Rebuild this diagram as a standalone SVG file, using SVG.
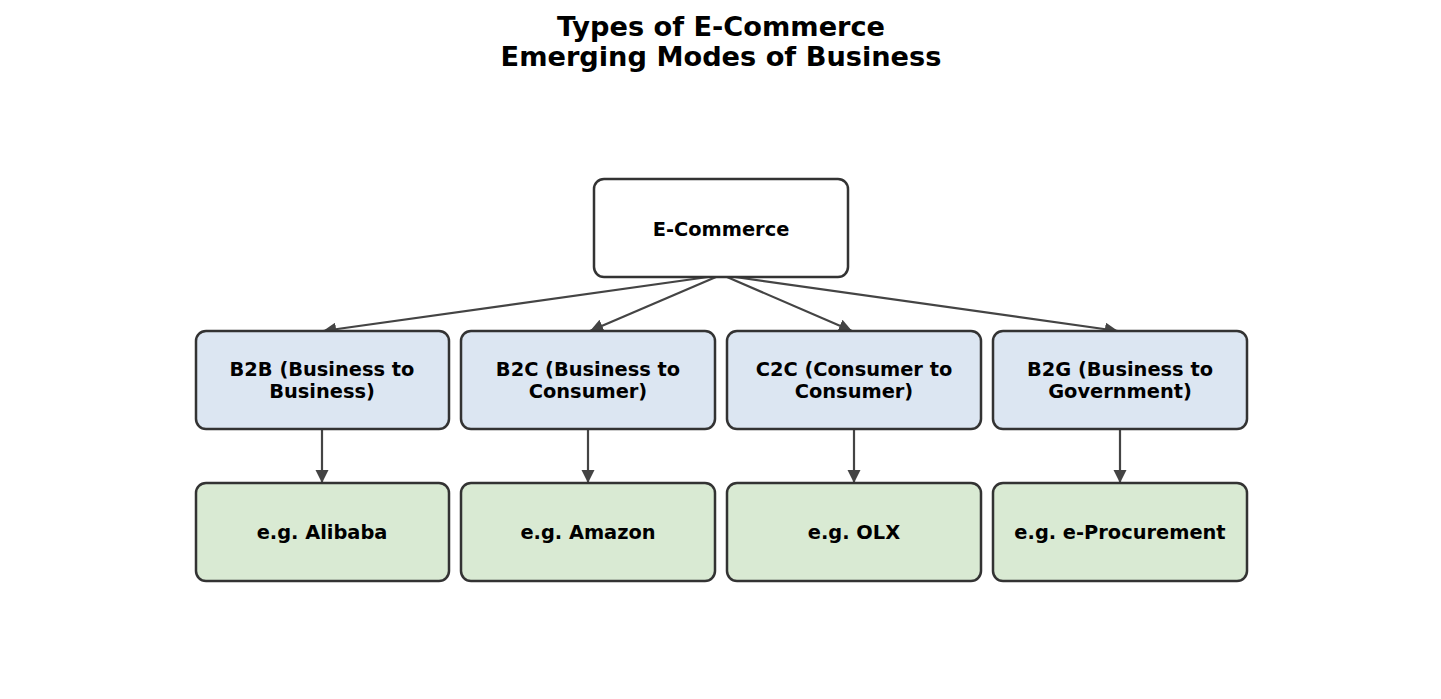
<svg xmlns="http://www.w3.org/2000/svg" width="1441" height="699" viewBox="0 0 1441 699">
<style>
text{font-family:"DejaVu Sans","Liberation Sans",sans-serif;font-weight:bold;fill:#000;text-anchor:middle;dominant-baseline:central}
.t{font-size:27.2px}
.l{font-size:19.4px}
.box{stroke:#333;stroke-width:2.5}
.root{fill:#fff}
.mid{fill:#dce6f2}
.ex{fill:#d9ead3}
.c{stroke:#444;stroke-width:2.2;fill:none;marker-end:url(#ah)}
</style>
<defs>
<marker id="ah" viewBox="0 0 10 10" refX="10" refY="5" markerWidth="6" markerHeight="6" markerUnits="strokeWidth" orient="auto">
<path d="M0,0 L10,5 L0,10 z" fill="#444"/>
</marker>
</defs>
<rect width="1441" height="699" fill="#fff"/>
<g id="title">
<text class="t" x="721" y="26">Types of E-Commerce</text>
<text class="t" x="721" y="56">Emerging Modes of Business</text>
</g>
<g id="connectors">
<line class="c" x1="708" y1="277" x2="323" y2="331"/>
<line class="c" x1="716" y1="277" x2="590" y2="331"/>
<line class="c" x1="727" y1="277" x2="852" y2="331"/>
<line class="c" x1="735" y1="277" x2="1118" y2="331"/>
<line class="c" x1="322" y1="429" x2="322" y2="483"/>
<line class="c" x1="588" y1="429" x2="588" y2="483"/>
<line class="c" x1="854" y1="429" x2="854" y2="483"/>
<line class="c" x1="1120" y1="429" x2="1120" y2="483"/>
</g>
<g id="ecommerce">
<rect class="box root" x="594" y="179" width="254" height="98" rx="10"/>
<text class="l" x="721" y="229">E-Commerce</text>
</g>
<g id="b2b">
<rect class="box mid" x="196" y="331" width="253" height="98" rx="10"/>
<text class="l" x="322" y="369">B2B (Business to</text>
<text class="l" x="322" y="391">Business)</text>
</g>
<g id="b2c">
<rect class="box mid" x="461" y="331" width="254" height="98" rx="10"/>
<text class="l" x="588" y="369">B2C (Business to</text>
<text class="l" x="588" y="391">Consumer)</text>
</g>
<g id="c2c">
<rect class="box mid" x="727" y="331" width="254" height="98" rx="10"/>
<text class="l" x="854" y="369">C2C (Consumer to</text>
<text class="l" x="854" y="391">Consumer)</text>
</g>
<g id="b2g">
<rect class="box mid" x="993" y="331" width="254" height="98" rx="10"/>
<text class="l" x="1120" y="369">B2G (Business to</text>
<text class="l" x="1120" y="391">Government)</text>
</g>
<g id="alibaba">
<rect class="box ex" x="196" y="483" width="253" height="98" rx="10"/>
<text class="l" x="322" y="532">e.g. Alibaba</text>
</g>
<g id="amazon">
<rect class="box ex" x="461" y="483" width="254" height="98" rx="10"/>
<text class="l" x="588" y="532">e.g. Amazon</text>
</g>
<g id="olx">
<rect class="box ex" x="727" y="483" width="254" height="98" rx="10"/>
<text class="l" x="854" y="532">e.g. OLX</text>
</g>
<g id="eproc">
<rect class="box ex" x="993" y="483" width="254" height="98" rx="10"/>
<text class="l" x="1120" y="532">e.g. e-Procurement</text>
</g>
</svg>
